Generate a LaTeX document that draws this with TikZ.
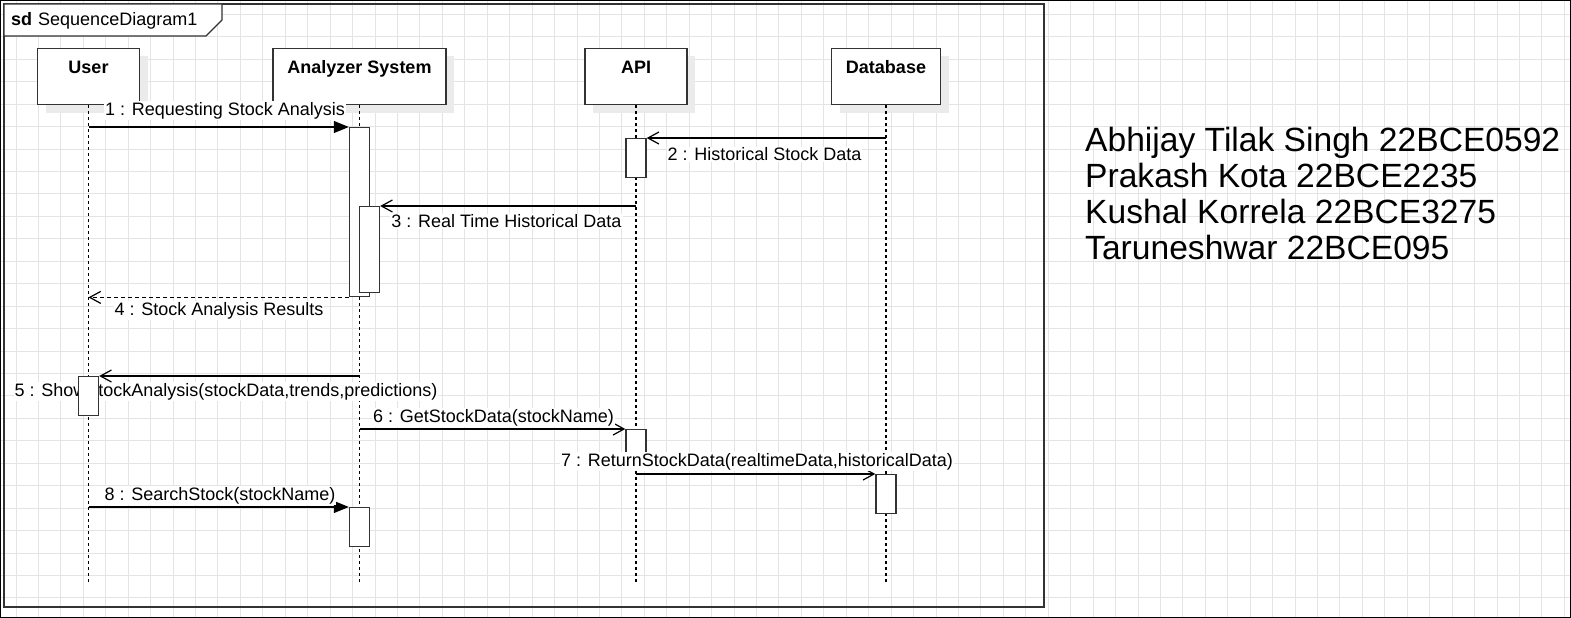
\documentclass[tikz,border=0pt]{standalone}
\usepackage{fontspec}
\setmainfont{Liberation Sans}
\usepackage{tikz}
\usetikzlibrary{arrows.meta, positioning, shadows}
\definecolor{gridgray}{HTML}{E4E4E4}
\definecolor{boxgray}{HTML}{333333}
\tikzstyle{lifeline} = [draw, dash pattern=on 3pt off 3pt, line width=1.1pt]

\begin{document}
\begin{tikzpicture}[x=1pt, y=-1pt,
    lifebox/.style={draw=boxgray, line width=1.6pt, fill=white, minimum height=56pt, inner sep=0pt,
      drop shadow={shadow xshift=8pt, shadow yshift=-8pt, fill=black!8, opacity=1}},
    headtext/.style={font=\fontsize{18}{22}\selectfont\bfseries, inner sep=0pt, text height=13pt, text depth=4pt},
    act/.style={draw=boxgray, line width=1.4pt, fill=white, minimum width=20pt, minimum height=39pt, inner sep=0pt, anchor=north},
    msg/.style={draw, line width=1.2pt, -{Straight Barb[length=11pt,width=12pt,line width=1.2pt]}},
    syncmsg/.style={draw, line width=1.2pt, -{Triangle[length=15pt,width=12pt]}},
    retmsg/.style={msg, dash pattern=on 4pt off 3pt},
    msglabel/.style={font=\fontsize{18}{22}\selectfont, fill=white, inner sep=1pt},
    font=\fontsize{18}{22}\selectfont]
  \useasboundingbox (0,0) rectangle (1571,618);
  % Raster
  \foreach \x in {16,38.44,...,1571}
    \draw[gridgray, line width=1pt] (\x,0) -- (\x,618);
  \foreach \y in {14.44,36.88,...,618}
    \draw[gridgray, line width=1pt] (0,\y) -- (1571,\y);
  \draw[line width=1pt] (0.5,0.5) rectangle (1570.5,617.5);

  % Rahmen sd
  \draw[boxgray, line width=1.6pt] (4,4) rectangle (1044,607);
  \draw[boxgray, line width=1.4pt, fill=white] (4,4) -- (222,4) -- (222,20) -- (206,36) -- (4,36) -- cycle;
  \node[anchor=base west, inner sep=0pt] (sdtitle) at (11,26) {\textbf{sd}\hspace{6pt}SequenceDiagram1};

  % Lebenslinien
  \node[lifebox, minimum width=102pt] (user) at (88.5,76.5) {};
  \node[lifebox, minimum width=173pt] (analyzer) at (359.5,76.5) {};
  \node[lifebox, minimum width=102pt] (api) at (636,76.5) {};
  \node[lifebox, minimum width=109pt] (db) at (886,76.5) {};
  \node[headtext, below=12.5pt of user.north] (userlbl) {User};
  \node[headtext, below=12.5pt of analyzer.north] (analyzerlbl) {Analyzer System};
  \node[headtext, below=12.5pt of api.north] (apilbl) {API};
  \node[headtext, below=12.5pt of db.north] (dblbl) {Database};
  \coordinate (userend) at (88.5,585);
  \coordinate (analyzerend) at (359.5,585);
  \coordinate (apiend) at (636,585);
  \coordinate (dbend) at (886,585);
  \draw[lifeline] (user.south) -- (userend);
  \draw[lifeline] (analyzer.south) -- (analyzerend);
  \draw[lifeline] (api.south) -- (apiend);
  \draw[lifeline] (db.south) -- (dbend);

  % Aktivierungen
  \node[act, minimum height=169pt] (an1) at (359.5,127) {};
  \node[act] (api1) at (636,138) {};
  \node[act, minimum height=86pt] (an2) at (369.5,206) {};
  \node[act] (api2) at (636,429) {};
  \node[act] (db1) at (886,474) {};
  \node[act] (an3) at (359.5,507) {};

  % Nachrichten
  \draw[syncmsg] (user |- an1.north) -- (an1.north west);
  \node[msglabel] (m1) at (225,110.5) {1 : Requesting Stock Analysis};
  \draw[msg] (db |- api1.north) -- (api1.north east);
  \node[msglabel] (m2) at (764.5,154.5) {2 : Historical Stock Data};
  \draw[msg] (api |- an2.north) -- (an2.north east);
  \node[msglabel] (m3) at (506.5,221.5) {3 : Real Time Historical Data};
  \draw[retmsg] (an1.south west) -- (user |- an1.south west);
  \node[msglabel] (m4) at (219,310.5) {4 : Stock Analysis Results};
  \node[msglabel] (m5) at (226,391.5) {5 : ShowStockAnalysis(stockData,trends,predictions)};
  \node[act] (u1) at (88.5,376) {};
  \draw[msg] (analyzer |- u1.north) -- (u1.north east);
  \draw[msg] (analyzer |- api2.north) -- (api2.north west);
  \node[msglabel] (m6) at (493.5,417.5) {6 : GetStockData(stockName)};
  \draw[msg] (api |- db1.north) -- (db1.north west);
  \node[msglabel] (m7) at (757,461.5) {7 : ReturnStockData(realtimeData,historicalData)};
  \draw[syncmsg] (user |- an3.north) -- (an3.north west);
  \node[msglabel] (m8) at (220,495.5) {8 : SearchStock(stockName)};

  % Namen
  \foreach \name [count=\i] in {Abhijay Tilak Singh 22BCE0592, Prakash Kota 22BCE2235,
      Kushal Korrela 22BCE3275, Taruneshwar 22BCE095}
    \node[anchor=base west, inner sep=0pt, font=\fontsize{33.6}{36}\selectfont] (names\i) at (1085,115+36*\i) {\name};
\end{tikzpicture}
\end{document}
